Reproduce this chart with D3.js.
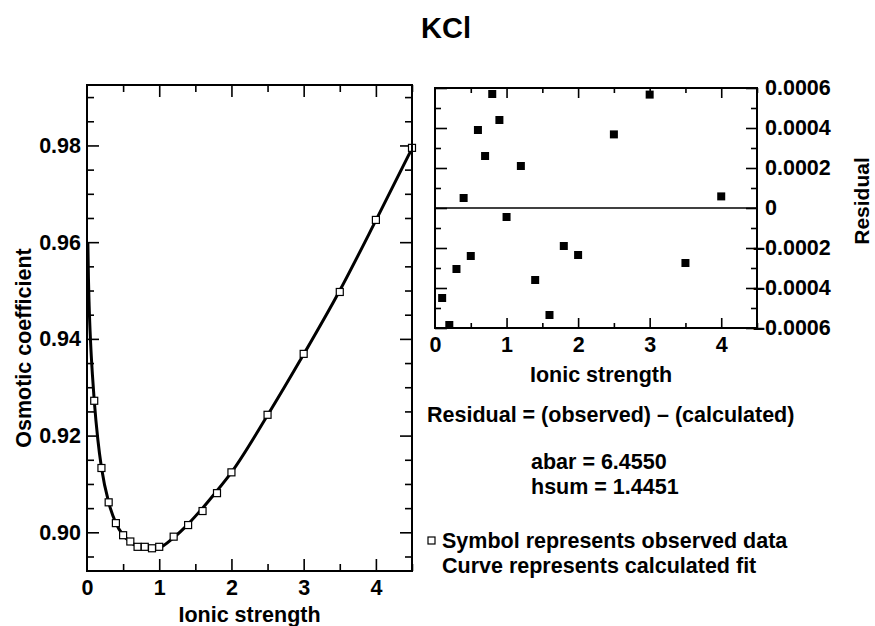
<!DOCTYPE html>
<html><head><meta charset="utf-8">
<script src="https://cdn.jsdelivr.net/npm/d3@7"></script>
<style>
body{margin:0;background:#fff}
svg{display:block}
text{font-family:"Liberation Sans",Arial,Helvetica,sans-serif;font-weight:bold;fill:#000}
</style>
</head><body>
<svg id="c" width="875" height="626"></svg>
<script>
// ---------- data ----------
const ionicObs = [0.1,0.2,0.3,0.4,0.5,0.6,0.7,0.8,0.9,1.0,1.2,1.4,1.6,1.8,2.0,2.5,3.0,3.5,4.0,4.5];
const phiObs   = [0.9272,0.9133,0.9062,0.9019,0.8994,0.8981,0.8970,0.8970,0.8967,0.8970,0.8991,0.9015,0.9044,0.9081,0.9124,0.9243,0.9369,0.9497,0.9646,0.9795];
const ionicFit = [0.012,0.02,0.03,0.05,0.075,0.1,0.15,0.2,0.3,0.4,0.5,0.6,0.7,0.8,0.9,1.0,1.2,1.4,1.6,1.8,2.0,2.5,3.0,3.5,4.0,4.5];
const phiFit   = [0.9600,0.9525,0.9468,0.9392,0.9326,0.9273,0.9192,0.9134,0.9062,0.9019,0.8994,0.8980,0.8971,0.8967,0.8966,0.8968,0.8989,0.9017,0.9050,0.9086,0.9124,0.9242,0.9368,0.9500,0.9645,0.9794];
const ionicRes = [0.1,0.2,0.3,0.4,0.5,0.6,0.7,0.8,0.9,1.0,1.2,1.4,1.6,1.8,2.0,2.5,3.0,3.5,4.0];
const residual = [-0.00045,-0.000585,-0.000305,0.00005,-0.00024,0.00039,0.00026,0.00057,0.00044,-0.000045,0.00021,-0.00036,-0.000535,-0.00019,-0.000235,0.000368,0.000567,-0.000275,0.000058];
const xTickLabels = [0,1,2,3,4];
const phiTickLabels = [0.90,0.92,0.94,0.96,0.98];
const resTickLabels = [-0.0006,-0.0004,-0.0002,0,0.0002,0.0004,0.0006];
const titleText = "KCl";
const notes = ["Residual = (observed) \u2013 (calculated)","abar = 6.4550","hsum = 1.4451"];
const legendText = ["Symbol represents observed data","Curve represents calculated fit"];

// ---------- layout ----------
const svg = d3.select("#c");
const L = {x0:87, x1:412, y0:85, y1:571};
const R = {x0:435, x1:757, y0:88, y1:328};
const FS = 21.5;

const xL = d3.scaleLinear().domain([0,4.5]).range([L.x0,L.x1]);
const yL = d3.scaleLinear().domain([0.892,0.9925]).range([L.y1,L.y0]);
const xR = d3.scaleLinear().domain([0,4.5]).range([R.x0,R.x1]);
const yR = d3.scaleLinear().domain([-0.0006,0.0006]).range([R.y1,R.y0]);

const halfX = d3.range(0,4.51,0.5).filter(v=>Math.abs(v-Math.round(v))>1e-9);
const minorPhi = d3.range(0.895,0.9926,0.005).map(v=>+v.toFixed(3)).filter(v=>!phiTickLabels.some(t=>Math.abs(t-v)<1e-6));
const minorRes = d3.range(-5,6,1).map(v=>v*0.0001).filter(v=>!resTickLabels.some(t=>Math.abs(t-v)<1e-9));

function drawAxis(g, ax, tx, ty){
  const a = g.append("g").attr("transform",`translate(${tx},${ty})`).call(ax);
  a.select(".domain").remove();
  a.selectAll(".tick line").attr("stroke","#000").attr("stroke-width",1.6);
  a.selectAll(".tick text").style("font-size",FS+"px").attr("fill","#000");
  return a;
}

// ---------- left panel ----------
const gl = svg.append("g");
drawAxis(gl, d3.axisLeft(yL).tickValues(minorPhi).tickSize(-7).tickFormat(""), L.x0, 0);
drawAxis(gl, d3.axisLeft(yL).tickValues(phiTickLabels).tickSize(-12).tickPadding(6).tickFormat(d3.format(".2f")), L.x0, 0);
drawAxis(gl, d3.axisRight(yL).tickValues(minorPhi).tickSize(-7).tickFormat(""), L.x1, 0);
drawAxis(gl, d3.axisRight(yL).tickValues(phiTickLabels).tickSize(-12).tickFormat(""), L.x1, 0);
drawAxis(gl, d3.axisTop(xL).tickValues(halfX).tickSize(-7).tickFormat(""), 0, L.y0);
drawAxis(gl, d3.axisTop(xL).tickValues(xTickLabels.slice(1)).tickSize(-12).tickFormat(""), 0, L.y0);
drawAxis(gl, d3.axisBottom(xL).tickValues(halfX).tickSize(-7).tickFormat(""), 0, L.y1);
drawAxis(gl, d3.axisBottom(xL).tickValues(xTickLabels).tickSize(-12).tickPadding(9).tickFormat(d3.format("d")), 0, L.y1)
  .selectAll(".tick line").filter(d=>d===0).remove();

gl.append("defs").append("clipPath").attr("id","clipL")
  .append("rect").attr("x",L.x0).attr("y",L.y0).attr("width",L.x1-L.x0).attr("height",L.y1-L.y0);

const fitPts = ionicFit.map((m,i)=>[m,phiFit[i]]);
gl.append("path").datum(fitPts)
  .attr("clip-path","url(#clipL)")
  .attr("fill","none").attr("stroke","#000").attr("stroke-width",3)
  .attr("stroke-linejoin","round")
  .attr("d", d3.line().x(d=>xL(d[0])).y(d=>yL(d[1])).curve(d3.curveMonotoneX));

const sq = 7;
gl.selectAll("rect.obs").data(ionicObs.map((m,i)=>[m,phiObs[i]])).join("rect")
  .attr("class","obs")
  .attr("x",d=>xL(d[0])-sq/2).attr("y",d=>yL(d[1])-sq/2)
  .attr("width",sq).attr("height",sq)
  .attr("fill","#fff").attr("stroke","#000").attr("stroke-width",1.2);

gl.append("rect").attr("x",L.x0).attr("y",L.y0).attr("width",L.x1-L.x0).attr("height",L.y1-L.y0)
  .attr("fill","none").attr("stroke","#000").attr("stroke-width",2);

gl.append("text").attr("x",(L.x0+L.x1)/2).attr("y",622).attr("text-anchor","middle")
  .style("font-size",FS+"px").text("Ionic strength");
gl.append("text").attr("transform","translate(31,348) rotate(-90)").attr("text-anchor","middle")
  .style("font-size",FS+"px").text("Osmotic coefficient");

// ---------- right panel ----------
const gr = svg.append("g");
drawAxis(gr, d3.axisLeft(yR).tickValues(minorRes).tickSize(-6).tickFormat(""), R.x0, 0);
drawAxis(gr, d3.axisLeft(yR).tickValues(resTickLabels).tickSize(-12).tickFormat(""), R.x0, 0);
drawAxis(gr, d3.axisRight(yR).tickValues(minorRes).tickSize(-6).tickFormat(""), R.x1, 0);
const ry = drawAxis(gr, d3.axisRight(yR).tickValues(resTickLabels).tickSize(-11).tickPadding(8)
   .tickFormat(d=> d===0 ? "0" : (d<0?"\u2013":"") + Math.abs(d).toFixed(4)), R.x1, 0);
ry.selectAll(".tick text").attr("dx",d=> d<0 ? "-0.556em" : 0);
drawAxis(gr, d3.axisTop(xR).tickValues(halfX).tickSize(-5).tickFormat(""), 0, R.y0);
drawAxis(gr, d3.axisTop(xR).tickValues(xTickLabels.slice(1)).tickSize(-10).tickFormat(""), 0, R.y0);
drawAxis(gr, d3.axisBottom(xR).tickValues(halfX).tickSize(-5).tickFormat(""), 0, R.y1);
drawAxis(gr, d3.axisBottom(xR).tickValues(xTickLabels).tickSize(-10).tickPadding(9).tickFormat(d3.format("d")), 0, R.y1)
  .selectAll(".tick line").filter(d=>d===0).remove();

gr.append("line").attr("x1",R.x0).attr("x2",R.x1).attr("y1",yR(0)).attr("y2",yR(0))
  .attr("stroke","#000").attr("stroke-width",1.6);

const rs = 8;
gr.selectAll("rect.res").data(ionicRes.map((m,i)=>[m,residual[i]])).join("rect")
  .attr("class","res")
  .attr("x",d=>xR(d[0])-rs/2).attr("y",d=>yR(d[1])-rs/2)
  .attr("width",rs).attr("height",rs).attr("fill","#000");

gr.append("rect").attr("x",R.x0).attr("y",R.y0).attr("width",R.x1-R.x0).attr("height",R.y1-R.y0)
  .attr("fill","none").attr("stroke","#000").attr("stroke-width",2);

gr.append("text").attr("x",601).attr("y",382).attr("text-anchor","middle")
  .style("font-size",FS+"px").text("Ionic strength");
gr.append("text").attr("transform","translate(869,201) rotate(-90)").attr("text-anchor","middle")
  .style("font-size","21px").text("Residual");

// ---------- title & notes ----------
svg.append("text").attr("x",446).attr("y",38).attr("text-anchor","middle")
  .style("font-size","29px").text(titleText);
svg.append("text").attr("x",427).attr("y",422).style("font-size",FS+"px").text(notes[0]);
svg.append("text").attr("x",531).attr("y",469).style("font-size",FS+"px").text(notes[1]);
svg.append("text").attr("x",531).attr("y",494).style("font-size",FS+"px").text(notes[2]);

svg.append("rect").attr("x",428).attr("y",537).attr("width",7).attr("height",7)
  .attr("fill","#fff").attr("stroke","#000").attr("stroke-width",1.2);
svg.append("text").attr("x",442).attr("y",548).style("font-size",FS+"px").text(legendText[0]);
svg.append("text").attr("x",442).attr("y",573).style("font-size",FS+"px").text(legendText[1]);
</script>
</body></html>
